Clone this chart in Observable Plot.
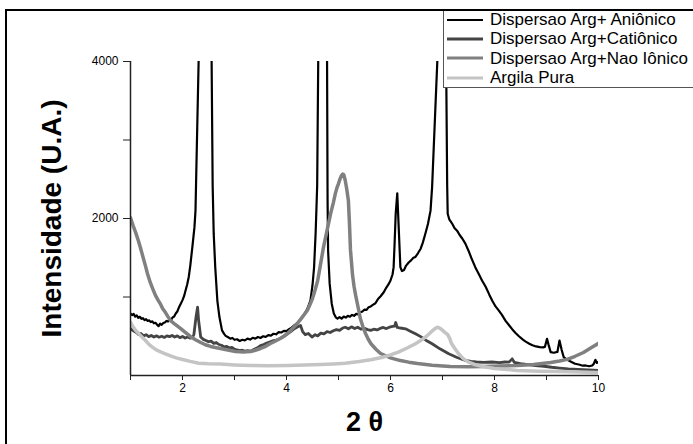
<!DOCTYPE html>
<html>
<head>
<meta charset="utf-8">
<script src="https://cdn.jsdelivr.net/npm/d3@7"></script>
<script src="https://cdn.jsdelivr.net/npm/@observablehq/plot@0.6"></script>
<style>
  html, body { margin: 0; padding: 0; background: #fff; }
  #wrap { position: relative; width: 693px; height: 444px; overflow: hidden; font-family: "Liberation Sans", Arial, sans-serif; }
  #wrap > svg { position: absolute; left: 0; top: 0; }
  #outer { position: absolute; left: 5px; top: 9px; width: 700px; height: 450px; border-left: 2px solid #000; border-top: 2px solid #000; box-sizing: border-box; }
  #legend { position: absolute; left: 443px; top: 10px; width: 252px; height: 78px; background: #fff; border-left: 1px solid #555; border-bottom: 1px solid #555; box-sizing: border-box; }
  .row { height: 19.3px; line-height: 19.3px; font-size: 17px; white-space: nowrap; display: flex; align-items: center; }
  .row svg { margin-left: 3px; margin-right: 7px; }
  #outerTop { position: absolute; left: 5px; top: 9px; width: 700px; height: 2px; background: #000; }
</style>
</head>
<body>
<div id="wrap">
  <div id="outer"></div>
  <div id="legend"></div>
  <div id="outerTop"></div>
</div>
<script>
const xTicks = [1, 2, 3, 4, 5, 6, 7, 8, 9, 10];
const xLabels = [2, 4, 6, 8, 10];
const yTicks = [1000, 2000, 3000, 4000];
const yLabels = [2000, 4000];

const seriesNames = ["Dispersao Arg+ Aniônico", "Dispersao Arg+Catiônico", "Dispersao Arg+Nao Iônico", "Argila Pura"];
const seriesColors = ["#000000", "#444444", "#808080", "#c4c4c4"];
const seriesWidths = [2.2, 2.8, 3.5, 3.5];

const anionico = [[1.00,790],[1.03,770],[1.06,785],[1.09,750],[1.12,765],[1.15,735],[1.18,748],[1.21,722],[1.24,730],[1.27,705],[1.30,718],[1.33,695],[1.36,702],[1.39,680],[1.42,690],[1.45,665],[1.48,672],[1.51,648],[1.54,628],[1.57,660],[1.60,645],[1.63,668],[1.66,675],[1.69,695],[1.72,688],[1.75,715],[1.78,708],[1.81,740],[1.84,752],[1.87,790],[1.90,815],[1.93,865],[1.96,905],[2.00,960],[2.03,1010],[2.06,1085],[2.09,1160],[2.12,1255],[2.15,1400],[2.19,1640],[2.23,1890],[2.25,2100],[2.26,2420],[2.31,4000],[2.43,30000],[2.56,4000],[2.58,2420],[2.60,1810],[2.63,1375],[2.67,955],[2.71,745],[2.76,575],[2.80,530],[2.83,505],[2.87,490],[2.92,470],[2.96,478],[3.00,455],[3.05,462],[3.10,440],[3.15,455],[3.20,448],[3.25,470],[3.30,458],[3.35,480],[3.40,470],[3.45,490],[3.50,478],[3.55,500],[3.60,492],[3.65,515],[3.70,508],[3.75,532],[3.80,525],[3.85,552],[3.90,548],[3.95,568],[4.00,565],[4.05,590],[4.10,610],[4.15,640],[4.20,665],[4.25,700],[4.30,735],[4.35,790],[4.40,850],[4.46,955],[4.50,1150],[4.53,1375],[4.56,1810],[4.58,2210],[4.59,2420],[4.61,4000],[4.69,30000],[4.78,4000],[4.79,2230],[4.80,1590],[4.83,1170],[4.87,915],[4.91,790],[4.95,740],[4.98,725],[5.02,745],[5.06,725],[5.10,750],[5.14,738],[5.18,760],[5.22,748],[5.26,772],[5.30,760],[5.34,785],[5.38,778],[5.42,805],[5.46,815],[5.50,840],[5.54,835],[5.58,870],[5.62,880],[5.66,900],[5.71,920],[5.76,975],[5.81,1010],[5.87,1060],[5.92,1120],[5.96,1160],[6.00,1210],[6.04,1290],[6.06,1380],[6.08,1700],[6.10,2060],[6.13,2320],[6.16,1850],[6.19,1380],[6.22,1330],[6.26,1345],[6.30,1400],[6.35,1440],[6.40,1470],[6.44,1500],[6.48,1510],[6.53,1560],[6.58,1615],[6.62,1690],[6.67,1805],[6.72,1930],[6.77,2100],[6.80,2400],[6.90,4000],[6.99,30000],[7.07,4000],[7.09,2420],[7.10,2060],[7.13,1990],[7.15,1970],[7.19,1930],[7.23,1880],[7.28,1845],[7.33,1790],[7.38,1745],[7.44,1680],[7.50,1590],[7.56,1490],[7.63,1380],[7.70,1290],[7.76,1210],[7.83,1130],[7.90,1030],[7.96,950],[8.02,880],[8.08,830],[8.14,775],[8.21,700],[8.28,640],[8.34,590],[8.40,545],[8.47,500],[8.54,460],[8.60,432],[8.67,405],[8.73,385],[8.80,370],[8.87,362],[8.93,358],[8.97,365],[9.01,468],[9.04,390],[9.08,298],[9.14,290],[9.21,300],[9.25,445],[9.29,330],[9.33,235],[9.40,200],[9.49,170],[9.55,150],[9.62,140],[9.70,125],[9.75,128],[9.82,118],[9.88,127],[9.91,150],[9.94,200],[9.97,160],[10.0,175]];

const cationico = [[1.00,600],[1.04,575],[1.08,560],[1.12,545],[1.16,520],[1.20,535],[1.25,505],[1.30,520],[1.35,495],[1.40,510],[1.45,490],[1.50,505],[1.55,488],[1.60,500],[1.65,485],[1.70,505],[1.75,495],[1.80,510],[1.85,490],[1.90,505],[1.95,482],[2.00,498],[2.05,478],[2.10,490],[2.15,475],[2.19,485],[2.22,525],[2.26,745],[2.29,870],[2.31,700],[2.35,490],[2.40,460],[2.45,445],[2.50,430],[2.55,438],[2.60,410],[2.65,420],[2.70,395],[2.75,385],[2.80,365],[2.85,372],[2.90,350],[2.95,358],[3.00,335],[3.05,325],[3.10,318],[3.15,322],[3.20,312],[3.25,318],[3.31,310],[3.38,335],[3.44,352],[3.50,380],[3.56,395],[3.62,412],[3.69,430],[3.75,445],[3.80,452],[3.85,462],[3.90,480],[3.95,500],[4.02,530],[4.08,560],[4.14,590],[4.20,615],[4.27,638],[4.31,560],[4.36,520],[4.42,535],[4.49,490],[4.55,520],[4.60,505],[4.66,540],[4.72,530],[4.78,560],[4.84,548],[4.90,570],[4.96,585],[5.02,575],[5.08,605],[5.13,615],[5.19,595],[5.25,620],[5.31,598],[5.37,615],[5.43,590],[5.50,600],[5.56,585],[5.62,575],[5.68,590],[5.74,580],[5.80,600],[5.86,612],[5.92,598],[5.98,615],[6.04,625],[6.08,630],[6.10,675],[6.13,612],[6.19,605],[6.29,595],[6.38,565],[6.48,531],[6.58,495],[6.68,450],[6.80,404],[6.95,340],[7.12,276],[7.28,230],[7.44,191],[7.55,180],[7.65,172],[7.79,166],[7.95,172],[8.10,165],[8.20,172],[8.28,170],[8.34,212],[8.38,168],[8.50,150],[8.65,138],[8.79,127],[8.95,118],[9.10,105],[9.25,95],[9.42,85],[9.60,78],[9.80,70],[10.0,64]];

const naoIonico = [[1.00,2010],[1.05,1910],[1.10,1820],[1.15,1720],[1.19,1630],[1.24,1510],[1.29,1390],[1.33,1290],[1.38,1185],[1.43,1100],[1.48,1020],[1.53,960],[1.58,905],[1.62,850],[1.67,805],[1.72,750],[1.77,700],[1.86,650],[1.96,600],[2.06,545],[2.15,497],[2.25,455],[2.35,420],[2.44,392],[2.54,370],[2.63,356],[2.73,344],[2.87,325],[3.02,306],[3.17,300],[3.31,306],[3.40,322],[3.50,344],[3.60,372],[3.69,408],[3.79,440],[3.88,471],[3.95,500],[4.02,535],[4.11,595],[4.21,662],[4.30,740],[4.40,828],[4.45,900],[4.50,980],[4.55,1090],[4.60,1210],[4.65,1400],[4.71,1630],[4.78,1850],[4.85,2065],[4.90,2200],[4.94,2320],[4.97,2390],[5.00,2445],[5.03,2505],[5.06,2550],[5.08,2565],[5.10,2560],[5.13,2485],[5.16,2370],[5.19,2230],[5.21,1950],[5.23,1600],[5.27,1280],[5.30,1130],[5.33,1020],[5.38,860],[5.42,725],[5.47,620],[5.52,535],[5.57,465],[5.62,408],[5.72,335],[5.81,280],[6.00,225],[6.19,190],[6.35,170],[6.52,153],[6.80,132],[7.15,115],[7.50,112],[7.79,115],[8.10,120],[8.44,127],[8.75,140],[9.08,166],[9.25,185],[9.40,205],[9.55,245],[9.71,293],[9.85,350],[10.0,410]];

const argilaPura = [[1.00,675],[1.05,620],[1.10,573],[1.15,540],[1.19,510],[1.24,478],[1.29,446],[1.35,400],[1.42,361],[1.50,325],[1.58,300],[1.67,276],[1.77,250],[1.88,225],[2.00,204],[2.15,180],[2.31,157],[2.50,150],[2.73,145],[3.00,135],[3.31,127],[3.65,125],[4.02,127],[4.35,133],[4.65,140],[4.90,148],[5.13,157],[5.40,178],[5.62,200],[5.85,233],[6.00,262],[6.15,297],[6.32,350],[6.48,404],[6.58,445],[6.67,488],[6.75,535],[6.81,573],[6.86,600],[6.90,615],[6.94,605],[6.98,588],[7.04,552],[7.10,520],[7.14,470],[7.17,410],[7.24,340],[7.31,276],[7.40,215],[7.50,170],[7.62,140],[7.77,115],[8.00,90],[8.44,65],[8.85,55],[9.27,50],[9.65,45],[10.0,38]];

const allData = [anionico, cationico, naoIonico, argilaPura];

const chart = Plot.plot({
  width: 693,
  height: 444,
  marginLeft: 130,
  marginRight: 95,
  marginTop: 61,
  marginBottom: 69,
  x: {domain: [1, 10]},
  y: {domain: [0, 4000]},
  style: {fontFamily: "'Liberation Sans', Arial, sans-serif", fontSize: "12px", color: "#000", background: "transparent", overflow: "visible"},
  marks: [
    ...allData.map((data, i) => Plot.line(data, {
      x: d => d[0], y: d => d[1],
      stroke: seriesColors[i], strokeWidth: seriesWidths[i],
      strokeLinejoin: "round", clip: true
    })),
    Plot.axisX({ticks: xTicks, tickFormat: d => xLabels.includes(d) ? String(d) : "", tickSize: 5, tickPadding: 3, label: null, stroke: "#222"}),
    Plot.axisY({ticks: yTicks, tickFormat: d => yLabels.includes(d) ? String(d) : "", tickSize: 7, tickPadding: 5, label: null, stroke: "#222"}),
    Plot.ruleX([1], {stroke: "#222", strokeWidth: 1.5}),
    Plot.ruleY([0], {stroke: "#222", strokeWidth: 1.5}),
    Plot.text(["Intensidade (U.A.)"], {frameAnchor: "left", dx: -78, rotate: -90, textAnchor: "middle", lineAnchor: "middle", fontSize: 28, fontWeight: "bold", fill: "#000"}),
    Plot.text(["2 θ"], {frameAnchor: "bottom", dy: 47, textAnchor: "middle", lineAnchor: "middle", fontSize: 27, fontWeight: "bold", fill: "#000"})
  ]
});

document.getElementById("wrap").insertBefore(chart, document.getElementById("outer"));

const legend = document.getElementById("legend");
seriesNames.forEach((name, i) => {
  const row = document.createElement("div");
  row.className = "row";
  row.innerHTML = `<svg width="36" height="8"><line x1="0" y1="4" x2="36" y2="4" stroke="${seriesColors[i]}" stroke-width="${Math.min(seriesWidths[i], 3)}"/></svg><span>${name}</span>`;
  legend.appendChild(row);
});
</script>
</body>
</html>
